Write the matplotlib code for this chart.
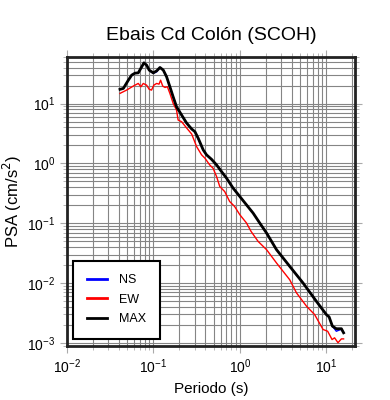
import matplotlib
matplotlib.use("Agg")
import matplotlib.pyplot as plt
from matplotlib.ticker import LogLocator, NullFormatter

plt.rcParams["font.family"] = ["Liberation Sans", "DejaVu Sans"]

# periodo (s) and PSA (cm/s^2)
periodo_max = [0.041, 0.0448, 0.0512, 0.056, 0.0611, 0.0667, 0.0731, 0.0776, 0.0834,
               0.0893, 0.0995, 0.109, 0.119, 0.130, 0.142, 0.155, 0.169, 0.185, 0.212,
               0.242, 0.277, 0.302, 0.330, 0.377, 0.412, 0.471, 0.538, 0.614, 0.702,
               0.837, 1.0, 1.195, 1.425, 1.70, 2.04, 2.66, 3.78, 5.39, 7.70, 10.05,
               10.8, 11.8, 13.1, 15.0, 15.9]
psa_max = [17.3, 17.9, 24.6, 29.9, 32.2, 32.6, 41.1, 47.9, 43.8,
           36.2, 32.6, 35.2, 40.1, 36.2, 28.0, 19.1, 13.0, 8.85, 6.43,
           4.73, 3.76, 3.39, 2.63, 1.68, 1.39, 1.17, 0.944, 0.730, 0.567,
           0.386, 0.280, 0.203, 0.148, 0.101, 0.0687, 0.0362, 0.0191, 0.01007, 0.00497, 0.00298,
           0.00273, 0.00191, 0.00173, 0.00173, 0.00148]

# NS is almost the envelope itself
psa_ns = [17.3, 17.9, 24.6, 29.9, 32.2, 32.6, 41.1, 47.9, 43.8,
          36.2, 32.0, 34.0, 40.1, 36.2, 28.0, 19.1, 13.0, 8.85, 6.43,
          4.73, 3.76, 3.39, 2.55, 1.68, 1.39, 1.17, 0.944, 0.730, 0.567,
          0.386, 0.280, 0.203, 0.148, 0.101, 0.0687, 0.0362, 0.0191, 0.01007, 0.00497, 0.00298,
          0.00273, 0.00191, 0.00157, 0.00170, 0.00148]

periodo_ew = [0.041, 0.0489, 0.0584, 0.0667, 0.0716, 0.0762, 0.0834, 0.0893, 0.095,
              0.101, 0.109, 0.116, 0.121, 0.128, 0.136, 0.145, 0.155, 0.169, 0.185,
              0.193, 0.212, 0.242, 0.277, 0.316, 0.361, 0.395, 0.448, 0.490, 0.538,
              0.586, 0.668, 0.763, 0.870, 1.0, 1.195, 1.35, 1.63, 2.04, 2.66, 3.78,
              4.53, 5.93, 7.35, 9.2, 10.4, 11.7, 12.5, 13.7, 15.0, 15.9]
psa_ew = [14.8, 16.8, 19.6, 21.7, 19.1, 21.7, 20.3, 17.3, 16.8,
          20.3, 21.7, 21.1, 24.6, 19.6, 18.6, 19.1, 14.8, 10.1, 7.79,
          5.31, 4.97, 3.91, 3.10, 1.91, 1.39, 1.22, 0.944, 0.832, 0.603,
          0.411, 0.339, 0.231, 0.191, 0.139, 0.101, 0.073, 0.0497, 0.0362, 0.0217, 0.0114,
          0.00687, 0.0041, 0.00298, 0.00168, 0.00157, 0.00114, 0.00122, 0.00101, 0.00117, 0.00117]

fig = plt.figure(figsize=(3.9, 4.0), dpi=100)
ax = fig.add_axes([0.172, 0.135, 0.738, 0.7225])

ax.loglog(periodo_max, psa_ns, color="blue", lw=1.0, label="NS")
ax.loglog(periodo_ew, psa_ew, color="red", lw=1.0, label="EW")
ax.loglog(periodo_max, psa_max, color="black", lw=2.0, label="MAX")

ax.set_xlim(0.01, 21.5)
ax.set_ylim(8.9e-4, 60)

ax.xaxis.set_major_locator(LogLocator(base=10, numticks=10))
ax.xaxis.set_minor_locator(LogLocator(base=10, subs=range(2, 10), numticks=20))
ax.yaxis.set_major_locator(LogLocator(base=10, numticks=10))
ax.yaxis.set_minor_locator(LogLocator(base=10, subs=range(2, 10), numticks=20))
ax.xaxis.set_minor_formatter(NullFormatter())
ax.yaxis.set_minor_formatter(NullFormatter())

ax.grid(True, which="both", color="#858585", lw=0.8)
ax.set_axisbelow(True)

ax.tick_params(which="both", direction="out", top=True, right=True,
               color="#aaaaaa", labelsize=10)
ax.tick_params(which="major", length=5, width=0.8)
ax.tick_params(which="minor", length=3, width=0.6)
for sp in ax.spines.values():
    sp.set_linewidth(2)
    sp.set_color("#222222")

ax.set_xlabel("Periodo (s)", fontsize=11)
ax.set_ylabel("PSA (cm/s$^2$)", fontsize=12, labelpad=2)
ax.set_title("Ebais Cd Colón (SCOH)", fontsize=14, pad=12)

leg = ax.legend(loc="lower left", bbox_to_anchor=(0.02, 0.024), fancybox=False,
                edgecolor="black", framealpha=1, fontsize=9, handlelength=1.6,
                borderpad=1.1, labelspacing=0.6, handletextpad=1.0, borderaxespad=0)
leg.get_frame().set_linewidth(1.5)
for line in leg.get_lines():
    line.set_linewidth(2)

fig.savefig("out.png", dpi=100)
